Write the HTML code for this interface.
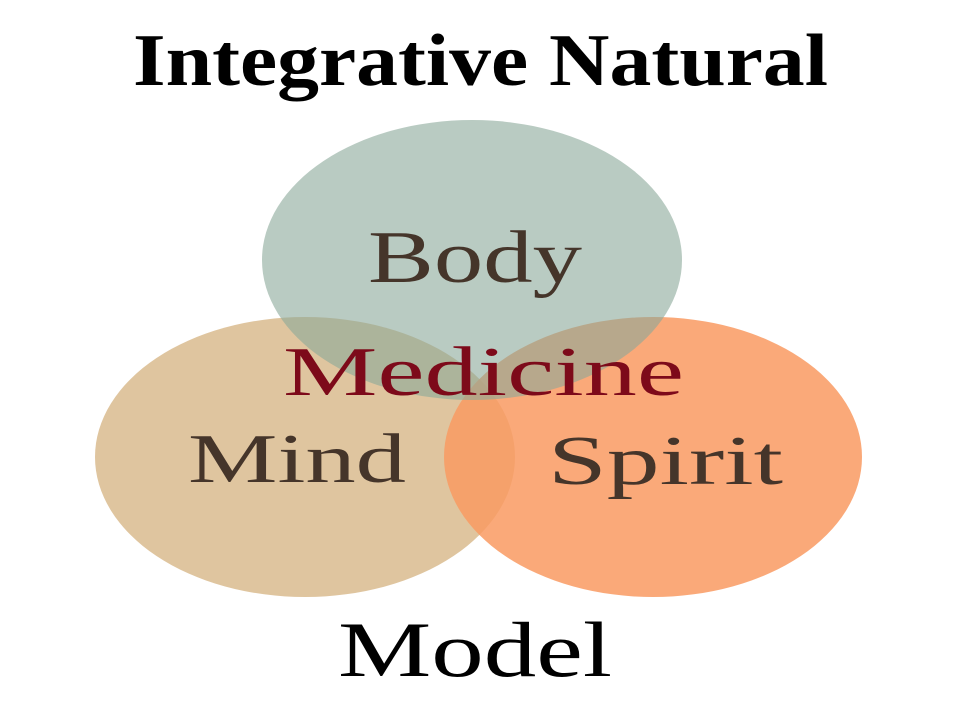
<!DOCTYPE html>
<html><head><meta charset="utf-8"><style>
html,body{margin:0;padding:0;background:#fff;}
svg{display:block;}
</style></head><body>
<svg width="960" height="719" viewBox="0 0 960 719" xmlns="http://www.w3.org/2000/svg">
<rect width="960" height="719" fill="#fff"/>
<ellipse cx="305" cy="457" rx="210" ry="140" fill="#d9bb8e" fill-opacity="0.85"/>
<ellipse cx="653" cy="457" rx="209" ry="140" fill="#f99a62" fill-opacity="0.85"/>
<ellipse cx="472" cy="260" rx="210" ry="140" fill="#8ba99a" fill-opacity="0.6"/>
<g font-family="Liberation Serif, serif">
<text x="133" y="85" font-size="74" font-weight="bold" fill="#000" textLength="695" lengthAdjust="spacingAndGlyphs">Integrative Natural</text>
<text x="368" y="282" font-size="74" fill="#45352a" textLength="214" lengthAdjust="spacingAndGlyphs">Body</text>
<text x="283" y="395" font-size="70" fill="#7d0a1a" textLength="401" lengthAdjust="spacingAndGlyphs">Medicine</text>
<text x="188" y="482" font-size="70" fill="#45352a" textLength="218" lengthAdjust="spacingAndGlyphs">Mind</text>
<text x="548" y="484" font-size="70" fill="#45352a" textLength="235" lengthAdjust="spacingAndGlyphs">Spirit</text>
<text x="338" y="676" font-size="78" fill="#000" textLength="274" lengthAdjust="spacingAndGlyphs">Model</text>
</g>
</svg>
</body></html>
